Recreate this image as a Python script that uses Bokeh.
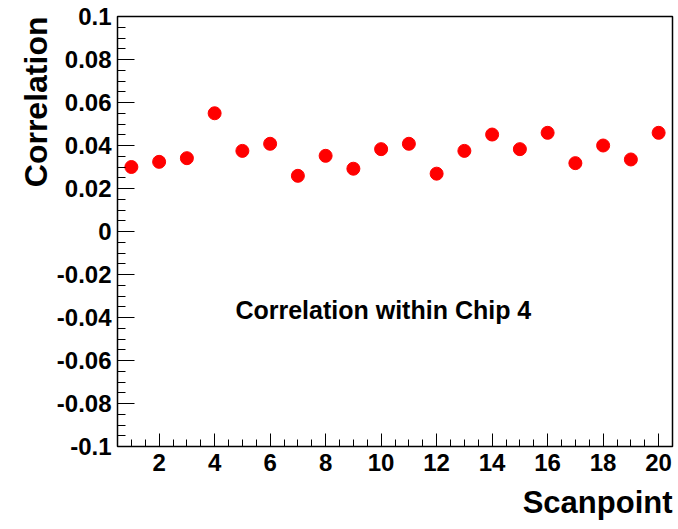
import numpy as np
from bokeh.plotting import figure
from bokeh.models import Range1d, FixedTicker, CustomJSTickFormatter, Label, Title, ColumnDataSource
from bokeh.embed import file_html
from bokeh.resources import INLINE

# ---- data ----
scanpoints = [1, 2, 3, 4, 5, 6, 7, 8, 9, 10, 11, 12, 13, 14, 15, 16, 17, 18, 19, 20]
correlation = [0.0300, 0.0324, 0.0341, 0.0550, 0.0375, 0.0408, 0.0259, 0.0352, 0.0292, 0.0383,
               0.0408, 0.0269, 0.0375, 0.0451, 0.0383, 0.0459, 0.0318, 0.0400, 0.0335, 0.0459]

x_ticks = [2, 4, 6, 8, 10, 12, 14, 16, 18, 20]
x_labels = ["2", "4", "6", "8", "10", "12", "14", "16", "18", "20"]
y_ticks = [-0.1, -0.08, -0.06, -0.04, -0.02, 0.0, 0.02, 0.04, 0.06, 0.08, 0.1]
y_labels = ["-0.1", "-0.08", "-0.06", "-0.04", "-0.02", "0", "0.02", "0.04", "0.06", "0.08", "0.1"]

x_title = "Scanpoint"
y_title = "Correlation"
note = "Correlation within Chip 4"

FONT = "Liberation Sans"

p = figure(width=678, height=529, output_backend="svg", toolbar_location=None,
           x_range=Range1d(0.5, 20.5), y_range=Range1d(-0.1, 0.1),
           min_border_left=117, min_border_right=6, min_border_top=16, min_border_bottom=83)
p.background_fill_color = "white"
p.border_fill_color = "white"
p.xgrid.visible = False
p.ygrid.visible = False
p.outline_line_color = "black"
p.outline_line_width = 1.5

x_minor = list(np.arange(0.5, 20.51, 0.5))
y_minor = list(np.round(np.arange(-0.1, 0.1001, 0.005), 4))

p.xaxis.ticker = FixedTicker(ticks=x_ticks, minor_ticks=x_minor)
p.yaxis.ticker = FixedTicker(ticks=y_ticks, minor_ticks=y_minor)
fmt_code = "const i = t.findIndex(v => Math.abs(v - tick) < 1e-9); return i >= 0 ? l[i] : '';"
p.xaxis.formatter = CustomJSTickFormatter(args=dict(t=x_ticks, l=x_labels), code=fmt_code)
p.yaxis.formatter = CustomJSTickFormatter(args=dict(t=y_ticks, l=y_labels), code=fmt_code)

for ax in (p.xaxis, p.yaxis):
    ax.major_label_text_font = FONT
    ax.major_label_text_font_style = "bold"
    ax.major_label_text_font_size = "24px"
    ax.major_label_text_color = "black"
    ax.axis_line_color = "black"
    ax.major_tick_line_color = "black"
    ax.minor_tick_line_color = "black"
    ax.major_tick_out = 0
    ax.minor_tick_out = 0

p.xaxis.major_tick_in = 13
p.xaxis.minor_tick_in = 7
p.yaxis.major_tick_in = 17
p.yaxis.minor_tick_in = 8
p.xaxis.major_label_standoff = 7
p.yaxis.major_label_standoff = 6

src = ColumnDataSource(dict(x=scanpoints, y=correlation))
p.scatter("x", "y", source=src, size=13, marker="circle", fill_color="#ff0000", line_color="#ff0000")

p.add_layout(Title(text=x_title, align="right", text_font=FONT, text_font_style="bold",
                   text_font_size="31px", text_color="black", standoff=19, offset=0,
                   text_line_height=0.9), "below")
p.add_layout(Title(text=y_title, align="right", text_font=FONT, text_font_style="bold",
                   text_font_size="32px", text_color="black", standoff=0, offset=0), "left")
p.add_layout(Label(x=4.75, y=-0.0366, text=note, text_align="left", text_baseline="alphabetic",
                   text_font=FONT, text_font_style="bold", text_font_size="25px", text_color="black"))

open("out.html", "w").write(file_html(p, INLINE))
